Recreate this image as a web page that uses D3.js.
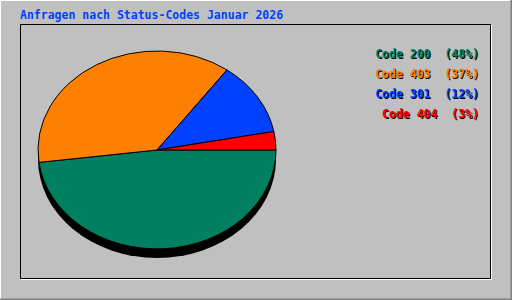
<!DOCTYPE html>
<html lang="de">
<head>
<meta charset="utf-8">
<title>Anfragen nach Status-Codes</title>
<script src="https://d3js.org/d3.v7.min.js"></script>
<style>
  body { margin: 0; background: #c0c0c0; }
  svg text { font-family: "DejaVu Sans Mono", monospace; font-weight: bold; font-size: 11.5px; white-space: pre; }
</style>
</head>
<body>
<div id="chart"></div>
<script>
// status codes in legend order
var codes = ["Code 200", "Code 403", "Code 301", "Code 404"];
var percents = [48, 37, 12, 3];
var colors = ["#008060", "#ff8000", "#0040ff", "#ff0000"];
var title = "Anfragen nach Status-Codes Januar 2026";

var W = 512, H = 300;
var svg = d3.select("#chart").append("svg")
  .attr("width", W).attr("height", H);

// background + bevel frame
svg.append("rect").attr("width", W).attr("height", H).attr("fill", "#c0c0c0");
svg.append("path").attr("d", "M0.5," + (H - 1) + "V0.5H" + (W - 1))
  .attr("stroke", "#fff").attr("fill", "none");
svg.append("path").attr("d", "M0," + (H - 0.5) + "H" + (W - 0.5) + "V0")
  .attr("stroke", "#808080").attr("stroke-width", 2).attr("fill", "none");

// inner panel
svg.append("path").attr("d", "M20.5,278.5V24.5H490.5V278.5Z")
  .attr("stroke", "#000").attr("fill", "none");
svg.append("path").attr("d", "M21,279.5H491.5V25")
  .attr("stroke", "#fff").attr("fill", "none");

svg.append("text").attr("x", 20).attr("y", 19)
  .attr("fill", "#0040ff").text(title);

// pie
var cx = 157, cy = 150, rx = 119, ry = 99, depth = 9;

var rows = codes.map(function (c, i) { return { code: c, value: percents[i], color: colors[i] }; });

var pie = d3.pie()
  .value(function (d) { return d.value; })
  .sort(function (a, b) { return a.value - b.value; })
  .startAngle(Math.PI / 2)
  .endAngle(Math.PI / 2 - 2 * Math.PI);

var arc = d3.arc().innerRadius(0).outerRadius(1);

// shadow
svg.append("ellipse")
  .attr("cx", cx).attr("cy", cy + depth)
  .attr("rx", rx).attr("ry", ry)
  .attr("fill", "#000");

svg.append("g")
  .attr("transform", "translate(" + cx + "," + cy + ") scale(" + rx + "," + ry + ")")
  .selectAll("path")
  .data(pie(rows))
  .enter().append("path")
  .attr("d", arc)
  .attr("fill", function (d) { return d.data.color; })
  .attr("stroke", "#000")
  .attr("stroke-width", 1)
  .attr("vector-effect", "non-scaling-stroke");

// legend
var legend = svg.append("g");
rows.forEach(function (d, i) {
  var label = d.code + "  (" + d.value + "%)";
  var y = 58 + i * 20;
  legend.append("text").attr("x", 480).attr("y", y + 1)
    .attr("text-anchor", "end").attr("fill", "#000").text(label);
  legend.append("text").attr("x", 479).attr("y", y)
    .attr("text-anchor", "end").attr("fill", d.color).text(label);
});
</script>
</body>
</html>
